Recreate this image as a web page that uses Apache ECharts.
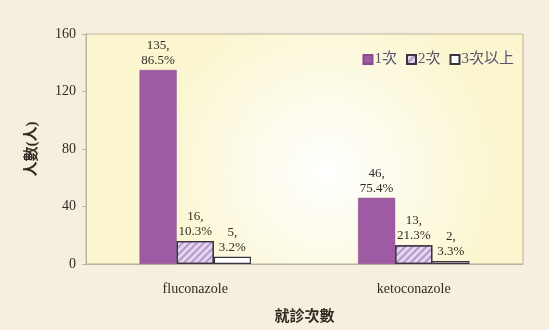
<!DOCTYPE html>
<html><head><meta charset="utf-8">
<script src="https://cdn.jsdelivr.net/npm/echarts@6/dist/echarts.min.js"></script>
<style>html,body{margin:0;padding:0;background:#f6efdf}#c{width:549px;height:330px}</style>
</head><body><div id="c"></div>
<script>
const categories = ['fluconazole', 'ketoconazole'];
const seriesNames = ['1次', '2次', '3次以上'];
const counts1 = [135, 46];
const counts2 = [16, 13];
const counts3 = [5, 2];
const pct1 = ['86.5%', '75.4%'];
const pct2 = ['10.3%', '21.3%'];
const pct3 = ['3.2%', '3.3%'];
const yTicks = [0, 40, 80, 120, 160];

const serif = "'Liberation Serif','Noto Sans CJK TC',serif";
const chart = echarts.init(document.getElementById('c'));
function mk(name, vals, pcts, style) {
  return {
    name, type: 'bar', data: vals, barGap: '0%', barCategoryGap: '49%',
    itemStyle: style,
    label: {
      show: true, position: 'top', distance: 2,
      formatter: p => p.value + ',\n' + pcts[p.dataIndex],
      fontFamily: serif, fontSize: 13, color: '#2e2b22', lineHeight: 15
    }
  };
}
chart.setOption({
  backgroundColor: '#f6efdf',
  animation: false,
  grid: {
    left: 86, right: 26, top: 34, bottom: 64, show: true,
    borderColor: '#b9b39a', borderWidth: 1,
    backgroundColor: {
      type: 'radial', x: 0.55, y: 0.6, r: 0.75,
      colorStops: [{offset: 0, color: '#ffffff'}, {offset: 1, color: '#fbf6cf'}]
    }
  },
  legend: {
    top: 47, right: 30, itemWidth: 9, itemHeight: 9, itemGap: 9,
    icon: 'rect',
    textStyle: {fontFamily: serif, fontSize: 15, color: '#57536a', padding: [0,0,0,-3]},
    data: seriesNames
  },
  xAxis: {
    type: 'category', data: categories,
    name: '就診次數', nameLocation: 'middle', nameGap: 46,
    nameTextStyle: {fontFamily: serif, fontSize: 15, color: '#2e2b22', fontWeight: 'bold'},
    axisLine: {lineStyle: {color: '#b9b39a'}},
    axisTick: {show: false},
    axisLabel: {fontFamily: serif, fontSize: 14, color: '#2e2b22', margin: 18}
  },
  yAxis: {
    type: 'value', min: yTicks[0], max: yTicks[yTicks.length-1], interval: 40,
    name: '人數(人)', nameLocation: 'middle', nameGap: 46, nameRotate: 90,
    nameTextStyle: {fontFamily: serif, fontSize: 15, color: '#2e2b22', fontWeight: 'bold'},
    axisLine: {show: true, lineStyle: {color: '#b9b39a'}},
    axisTick: {show: true, length: 4, lineStyle: {color: '#b9b39a'}},
    splitLine: {show: false},
    axisLabel: {fontFamily: serif, fontSize: 14, color: '#2e2b22', margin: 10}
  },
  series: [
    mk(seriesNames[0], counts1, pct1, {color: '#9e5aa3', borderColor: '#8a4c8f', borderWidth: 0.5}),
    mk(seriesNames[1], counts2, pct2, {color: '#e4d6ef', borderColor: '#3b3340', borderWidth: 1.2,
      decal: {symbol: 'rect', symbolSize: 1, dashArrayX: [1, 0], dashArrayY: [1.5, 2.5], rotation: -Math.PI/4, color: 'rgba(140,100,170,0.55)'}}),
    mk(seriesNames[2], counts3, pct3, {color: '#ffffff', borderColor: '#3b3340', borderWidth: 1.2})
  ]
});
</script></body></html>
